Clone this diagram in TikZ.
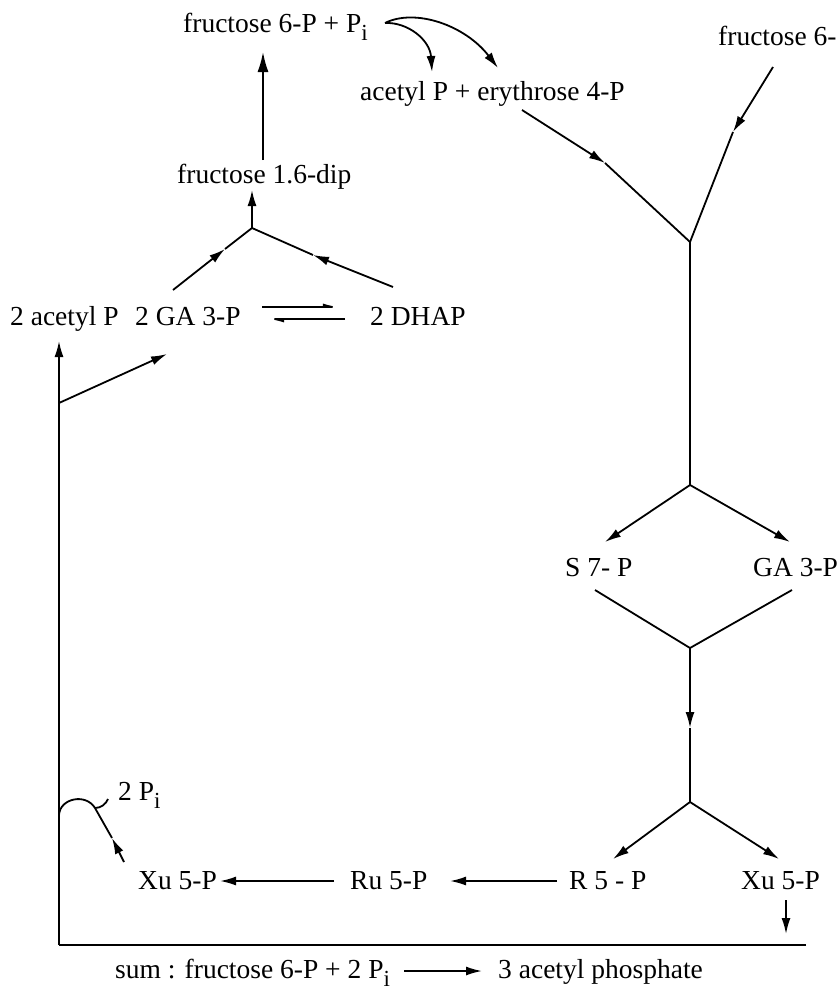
\documentclass[tikz,border=0pt]{standalone}
\usepackage{fontspec}
\setmainfont{Liberation Serif}
\usetikzlibrary{arrows.meta}
\newcommand{\subI}{\raisebox{-8pt}{\fontsize{23}{23}\selectfont i}}
\begin{document}
\begin{tikzpicture}[x=1pt,y=-1pt,
  lbl/.style={anchor=base west, inner sep=0pt, font=\fontsize{27.5}{32}\selectfont},
  ln/.style={line width=1.8pt},
  arr/.style={ln,-{Latex[length=16pt,width=9pt]}},
  bigarr/.style={ln,-{Latex[length=20pt,width=11pt]}},
  harp/.style={ln,-{Latex[left,length=16pt,width=7pt]}}]
\fill[white] (0,0) rectangle (840,990);
\useasboundingbox (0,0) rectangle (840,990);
% texts
\node[lbl] (f6p) at (183,33) {fructose 6-P + P\subI};
\node[lbl] (ae) at (360,100) {acetyl P + erythrose 4-P};
\node[lbl] (f6pr) at (718,46) {fructose 6-};
\node[lbl] (fdp) at (177,183) {fructose 1.6-dip};
\node[lbl] (acp) at (10,325) {2 acetyl P};
\node[lbl] (ga) at (135,325) {2 GA 3-P};
\node[lbl] (dhap) at (370,325) {2 DHAP};
\node[lbl] (s7p) at (565,576) {S 7- P};
\node[lbl] (ga3) at (753,576) {GA 3-P};
\node[lbl] (r5p) at (569,889) {R 5 - P};
\node[lbl] (xur) at (741,889) {Xu 5-P};
\node[lbl] (ru) at (350,889) {Ru 5-P};
\node[lbl] (xul) at (138,889) {Xu 5-P};
\node[lbl] (pi2) at (118,800) {2 P\subI};
\node[lbl] (sum1) at (115,978) {sum : fructose 6-P + 2 P\subI};
\node[lbl] (sum2) at (498,978) {3 acetyl phosphate};
% coordinates
\coordinate (c0) at (385,23);
\coordinate (c1) at (432,72);
\coordinate (c2) at (498,68);
\coordinate (upb) at (263,160);
\coordinate (upt) at (263,52);
\coordinate (j1) at (252,228);
\coordinate (j1t) at (252,190);
\coordinate (gl) at (173,290);
\coordinate (gm) at (225,249);
\coordinate (dr) at (393,287);
\coordinate (dm) at (313,255);
\coordinate (e1) at (262,307);
\coordinate (e2) at (345,307);
\coordinate (e3) at (345,319);
\coordinate (e4) at (262,319);
\coordinate (corner) at (59,945);
\coordinate (vt) at (59,341);
\coordinate (vb) at (59,403);
\coordinate (vbt) at (167,354);
\coordinate (p1) at (522,110);
\coordinate (p2) at (605,163);
\coordinate (q1) at (773,67);
\coordinate (q2) at (733,132);
\coordinate (j2) at (690,242);
\coordinate (j3) at (690,485);
\coordinate (s7t) at (605,542);
\coordinate (gat) at (790,542);
\coordinate (s7b) at (595,590);
\coordinate (gab) at (792,590);
\coordinate (j4) at (690,648);
\coordinate (j4m) at (690,728);
\coordinate (j5) at (690,802);
\coordinate (r5t) at (613,859);
\coordinate (xut) at (779,859);
\coordinate (r5l) at (557,881);
\coordinate (rut) at (450,881);
\coordinate (rul) at (334,881);
\coordinate (xlt) at (220,881);
\coordinate (xa) at (124,862);
\coordinate (xm) at (112,838);
\coordinate (xj) at (95,808);
\coordinate (xh) at (108,799);
\coordinate (arcs) at (59,815);
\coordinate (xd1) at (786,900);
\coordinate (xd2) at (786,934);
\coordinate (bl) at (806,945);
\coordinate (sa1) at (404,971);
\coordinate (sa2) at (482,971);
% connectors
\draw[arr] (c0) .. controls (408,22) and (430,40) .. (c1);
\draw[arr] (c0) .. controls (415,8) and (465,25) .. (c2);
\draw[bigarr] (upb) -- (upt);
\draw[arr] (j1) -- (j1t);
\draw[arr] (gl) -- (gm);
\draw[ln] (gm) -- (j1);
\draw[arr] (dr) -- (dm);
\draw[ln] (dm) -- (j1);
\draw[harp] (e1) -- (e2);
\draw[harp] (e3) -- (e4);
\draw[ln] (bl) -- (corner);
\draw[arr] (corner) -- (vt);
\draw[arr] (vb) -- (vbt);
\draw[arr] (p1) -- (p2);
\draw[ln] (p2) -- (j2);
\draw[arr] (q1) -- (q2);
\draw[ln] (q2) -- (j2);
\draw[ln] (j2) -- (j3);
\draw[arr] (j3) -- (s7t);
\draw[arr] (j3) -- (gat);
\draw[ln] (s7b) -- (j4);
\draw[ln] (gab) -- (j4);
\draw[arr] (j4) -- (j4m);
\draw[ln] (j4m) -- (j5);
\draw[arr] (j5) -- (r5t);
\draw[arr] (j5) -- (xut);
\draw[arr] (r5l) -- (rut);
\draw[arr] (rul) -- (xlt);
\draw[arr] (xa) -- (xm);
\draw[ln] (xm) -- (xj);
\draw[ln] (arcs) .. controls (60,798) and (86,793) .. (xj);
\draw[ln] (xj) .. controls (101,808) and (106,804) .. (xh);
\draw[arr] (xd1) -- (xd2);
\draw[arr] (sa1) -- (sa2);
\end{tikzpicture}
\end{document}
